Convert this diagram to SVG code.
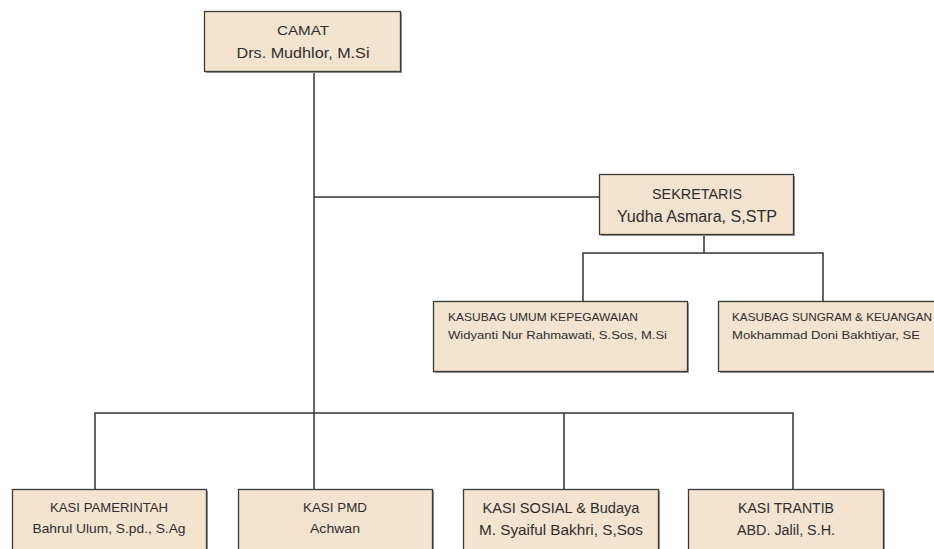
<svg xmlns="http://www.w3.org/2000/svg" width="934" height="549" viewBox="0 0 934 549">
<style>
.box{fill:#F3E3CF;stroke:#3a3a3a;stroke-width:1.3}
.sh{fill:#9a9a9a}
.ln{fill:none;stroke:#333;stroke-width:1.5}
text{font-family:"Liberation Sans",Arial,sans-serif;fill:#2e2e2e}
.c{text-anchor:middle}
</style>
<rect width="934" height="549" fill="#fff"/>
<g id="connectors">
<path class="ln" d="M314 72V413"/>
<path class="ln" d="M314 197H599"/>
<path class="ln" d="M704 235V253M583 301V253H823V301"/>
<path class="ln" d="M95 489V413H793V489M314 413V489M564 413V489"/>
</g>
<g id="camat">
<rect class="sh" x="206" y="13" width="196" height="60"/>
<rect class="box" x="204.5" y="11.5" width="196" height="60"/>
<text class="c" x="303" y="35" font-size="13.5" textLength="52" lengthAdjust="spacingAndGlyphs">CAMAT</text>
<text class="c" x="303" y="58" font-size="15" textLength="133" lengthAdjust="spacingAndGlyphs">Drs. Mudhlor, M.Si</text>
</g>
<g id="sekretaris">
<rect class="sh" x="601" y="176" width="194" height="60"/>
<rect class="box" x="599.5" y="174.5" width="194" height="60"/>
<text class="c" x="697" y="199" font-size="15" textLength="90" lengthAdjust="spacingAndGlyphs">SEKRETARIS</text>
<text class="c" x="697" y="222" font-size="16" textLength="160" lengthAdjust="spacingAndGlyphs">Yudha Asmara, S,STP</text>
</g>
<g id="kasubag-umum">
<rect class="sh" x="435" y="303" width="254" height="70"/>
<rect class="box" x="433.5" y="301.5" width="254" height="70"/>
<text x="448" y="321" font-size="11.5" textLength="190" lengthAdjust="spacingAndGlyphs">KASUBAG UMUM KEPEGAWAIAN</text>
<text x="448" y="339" font-size="11.5" textLength="219" lengthAdjust="spacingAndGlyphs">Widyanti Nur Rahmawati,  S.Sos, M.Si</text>
</g>
<g id="kasubag-sungram">
<rect class="sh" x="720" y="303" width="220" height="70"/>
<rect class="box" x="718.5" y="301.5" width="220" height="70"/>
<text x="732" y="321" font-size="11.5" textLength="200" lengthAdjust="spacingAndGlyphs">KASUBAG SUNGRAM &amp; KEUANGAN</text>
<text x="732" y="339" font-size="11.5" textLength="188" lengthAdjust="spacingAndGlyphs">Mokhammad Doni Bakhtiyar, SE</text>
</g>
<g id="kasi-pamerintah">
<rect class="sh" x="14" y="491" width="194" height="70"/>
<rect class="box" x="12.5" y="489.5" width="194" height="70"/>
<text class="c" x="109" y="512" font-size="13.5" textLength="118" lengthAdjust="spacingAndGlyphs">KASI PAMERINTAH</text>
<text class="c" x="109" y="533" font-size="13.5" textLength="153" lengthAdjust="spacingAndGlyphs">Bahrul Ulum, S.pd., S.Ag</text>
</g>
<g id="kasi-pmd">
<rect class="sh" x="240" y="491" width="194" height="70"/>
<rect class="box" x="238.5" y="489.5" width="194" height="70"/>
<text class="c" x="335" y="512" font-size="13.5" textLength="64" lengthAdjust="spacingAndGlyphs">KASI PMD</text>
<text class="c" x="335" y="533" font-size="13.5" textLength="50" lengthAdjust="spacingAndGlyphs">Achwan</text>
</g>
<g id="kasi-sosial">
<rect class="sh" x="465" y="491" width="195" height="70"/>
<rect class="box" x="463.5" y="489.5" width="195" height="70"/>
<text class="c" x="561" y="513" font-size="14" textLength="157" lengthAdjust="spacingAndGlyphs">KASI SOSIAL &amp; Budaya</text>
<text class="c" x="561" y="535" font-size="14" textLength="164" lengthAdjust="spacingAndGlyphs">M. Syaiful Bakhri, S,Sos</text>
</g>
<g id="kasi-trantib">
<rect class="sh" x="690" y="491" width="195" height="70"/>
<rect class="box" x="688.5" y="489.5" width="195" height="70"/>
<text class="c" x="786" y="513" font-size="14" textLength="96" lengthAdjust="spacingAndGlyphs">KASI TRANTIB</text>
<text class="c" x="786" y="535" font-size="14" textLength="98" lengthAdjust="spacingAndGlyphs">ABD. Jalil, S.H.</text>
</g>
</svg>
